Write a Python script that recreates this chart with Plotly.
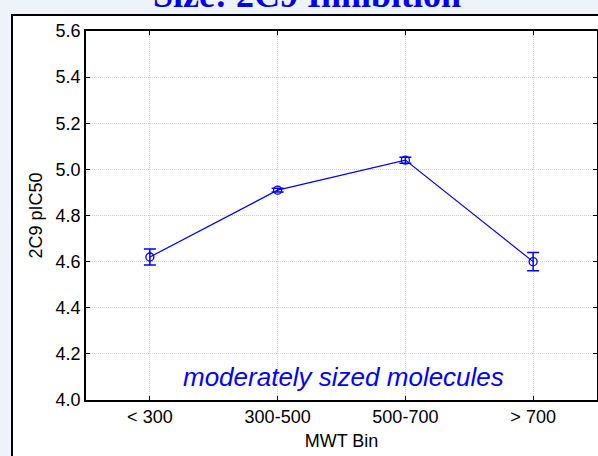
import plotly.graph_objects as go

categories = ["< 300", "300-500", "500-700", "> 700"]
pic50 = [4.62, 4.91, 5.04, 4.60]
err = [0.035, 0.008, 0.013, 0.040]
y_ticks = [4.0, 4.2, 4.4, 4.6, 4.8, 5.0, 5.2, 5.4, 5.6]

W, H = 598, 456
L, R, T, B = 86, 1, 31, 56
pw, ph = W - L - R, H - T - B

def px_x(p):
    return (p - L) / pw

def px_y(p):
    return (H - B - p) / ph

fig = go.Figure()
fig.add_trace(go.Scatter(
    x=categories, y=pic50,
    mode="lines+markers",
    line=dict(color="#0000ff", width=1.2),
    marker=dict(symbol="circle-open", size=8, color="#0000ff", line=dict(width=1.3)),
    error_y=dict(type="data", array=err, visible=True, color="#0000ff", thickness=1.5, width=6),
    showlegend=False,
))

fig.add_shape(type="rect", xref="paper", yref="paper",
              x0=px_x(12), x1=px_x(640), y0=px_y(520), y1=px_y(15),
              fillcolor="white", line=dict(color="black", width=2), layer="below")

fig.add_annotation(text="Size: 2C9 Inhibition", xref="paper", yref="paper",
                   x=px_x(307), y=px_y(17), xanchor="center", yanchor="bottom",
                   showarrow=False,
                   font=dict(family="Liberation Serif", size=36, color="#0000ee", weight="bold"))

fig.add_annotation(text="<i>moderately sized molecules</i>", xref="paper", yref="paper",
                   x=px_x(343.5), y=px_y(377), xanchor="center", yanchor="middle",
                   showarrow=False,
                   font=dict(family="Liberation Sans", size=26, color="#0000ff"))

axis_common = dict(
    showline=True, linecolor="black", linewidth=1.5, mirror="ticks",
    ticks="inside", ticklen=4, tickcolor="black", tickwidth=1,
    showgrid=True, gridcolor="#cfcfcf", griddash="1px,1px", gridwidth=1,
    zeroline=False,
    tickfont=dict(family="Liberation Sans", size=18, color="black"),
)

fig.update_xaxes(range=[-0.5, 3.5],
                 title=dict(text="MWT Bin", font=dict(family="Liberation Sans", size=18, color="black"), standoff=8),
                 **axis_common)
fig.update_yaxes(range=[4.0, 5.6], tickvals=y_ticks, ticktext=[f"{v:.1f}" for v in y_ticks],
                 title=dict(text="2C9 pIC50", font=dict(family="Liberation Sans", size=18, color="black"), standoff=8),
                 **axis_common)

fig.update_layout(
    width=W, height=H,
    margin=dict(l=L, r=R, t=T, b=B, autoexpand=False),
    paper_bgcolor="#eef3f9",
    plot_bgcolor="white",
)

fig.write_html("out.html")
